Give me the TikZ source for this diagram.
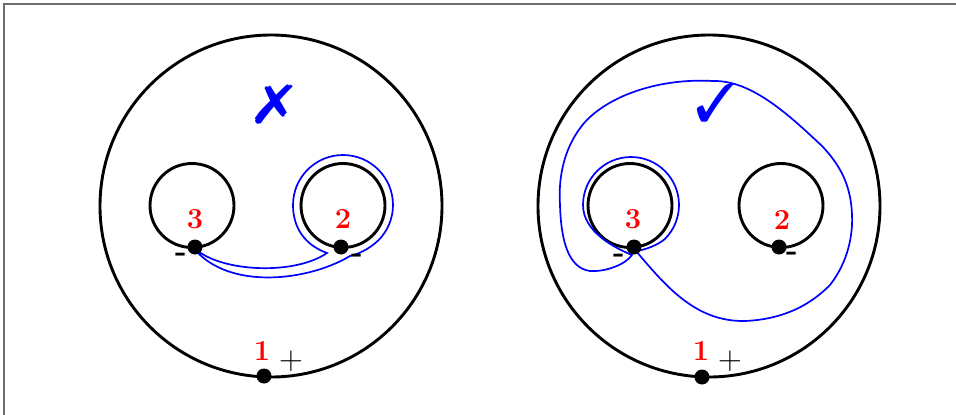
\documentclass[tikz,border=0pt]{standalone}
\usepackage{pifont}
\definecolor{framegray}{RGB}{110,110,110}
\begin{document}
\begin{tikzpicture}[x=1pt,y=-1pt,
  big/.style={line width=2.9pt},
  blueline/.style={blue,line width=1.7pt},
  pt/.style={circle,fill=black,inner sep=0pt,minimum size=15pt},
  num/.style={text=red,font=\fontsize{29}{30}\selectfont\bfseries,inner sep=0pt},
  sgn/.style={font=\fontsize{31}{31}\selectfont\bfseries,inner sep=0pt},
  plus/.style={font=\fontsize{33}{34}\selectfont,inner sep=0pt},
  verdict/.style={text=blue,inner sep=0pt}]
\useasboundingbox (0,0) rectangle (956,415);
% frame
\draw[framegray,line width=1.3pt] (4,415) -- (4,4) -- (956,4);
% left picture
\draw[big] (271,206) circle[radius=171];
\draw[big] (192,205.5) circle[radius=42];
\draw[big] (343,205.5) circle[radius=42];
\draw[blueline] (198,251) .. controls (225,272) and (295,275) .. (327,253)
  .. controls (305,245) and (293,228) .. (293,205)
  arc[start angle=180,end angle=405,radius=50]
  .. controls (368,250) and (358,254) .. (350,256)
  .. controls (310,280) and (235,290) .. (198,253);
\node[pt] (d3a) at (195,247) {};
\node[pt] (d2a) at (341,247) {};
\node[pt] (d1a) at (264,376) {};
\node[num] (n3a) at (195,219) {3};
\node[num] (n2a) at (343,219) {2};
\node[num] (n1a) at (262,351) {1};
\node[sgn] (m3a) at (181,257) {-};
\node[sgn] (m2a) at (357,258) {-};
\node[plus] (p1a) at (291,361) {+};
\node[verdict,font=\fontsize{54}{54}\selectfont] (xa) at (274,105) {\scalebox{1.22}[1]{\ding{55}}};
% right picture
\draw[big] (709,206) circle[radius=171];
\draw[big] (630,205.5) circle[radius=42];
\draw[big] (781,205.5) circle[radius=42];
\draw[blueline] (636,251) .. controls (665,285) and (695,322) .. (745,321)
  .. controls (790,319) and (815,300) .. (830,285)
  .. controls (848,262) and (853,235) .. (852,215)
  .. controls (851,185) and (840,165) .. (822,146)
  .. controls (790,116) and (752,80) .. (713,81)
  .. controls (660,78) and (610,95) .. (585,122)
  .. controls (565,145) and (558,175) .. (560,205)
  .. controls (561,240) and (568,268) .. (590,271)
  .. controls (605,272) and (625,265) .. (632,255)
  .. controls (615,248) and (583,232) .. (583,205)
  arc[start angle=180,end angle=405,radius=48]
  .. controls (658,245) and (645,250) .. (636,251);
\node[pt] (d3b) at (634,247) {};
\node[pt] (d2b) at (779,247) {};
\node[pt] (d1b) at (702,377) {};
\node[num] (n3b) at (633,219) {3};
\node[num] (n2b) at (782,220) {2};
\node[num] (n1b) at (701,351) {1};
\node[sgn] (m3b) at (619,258) {-};
\node[sgn] (m2b) at (792,256) {-};
\node[plus] (p1b) at (730,361) {+};
\node[verdict,font=\fontsize{54}{54}\selectfont] (cb) at (716,103) {\ding{51}};
\end{tikzpicture}
\end{document}
